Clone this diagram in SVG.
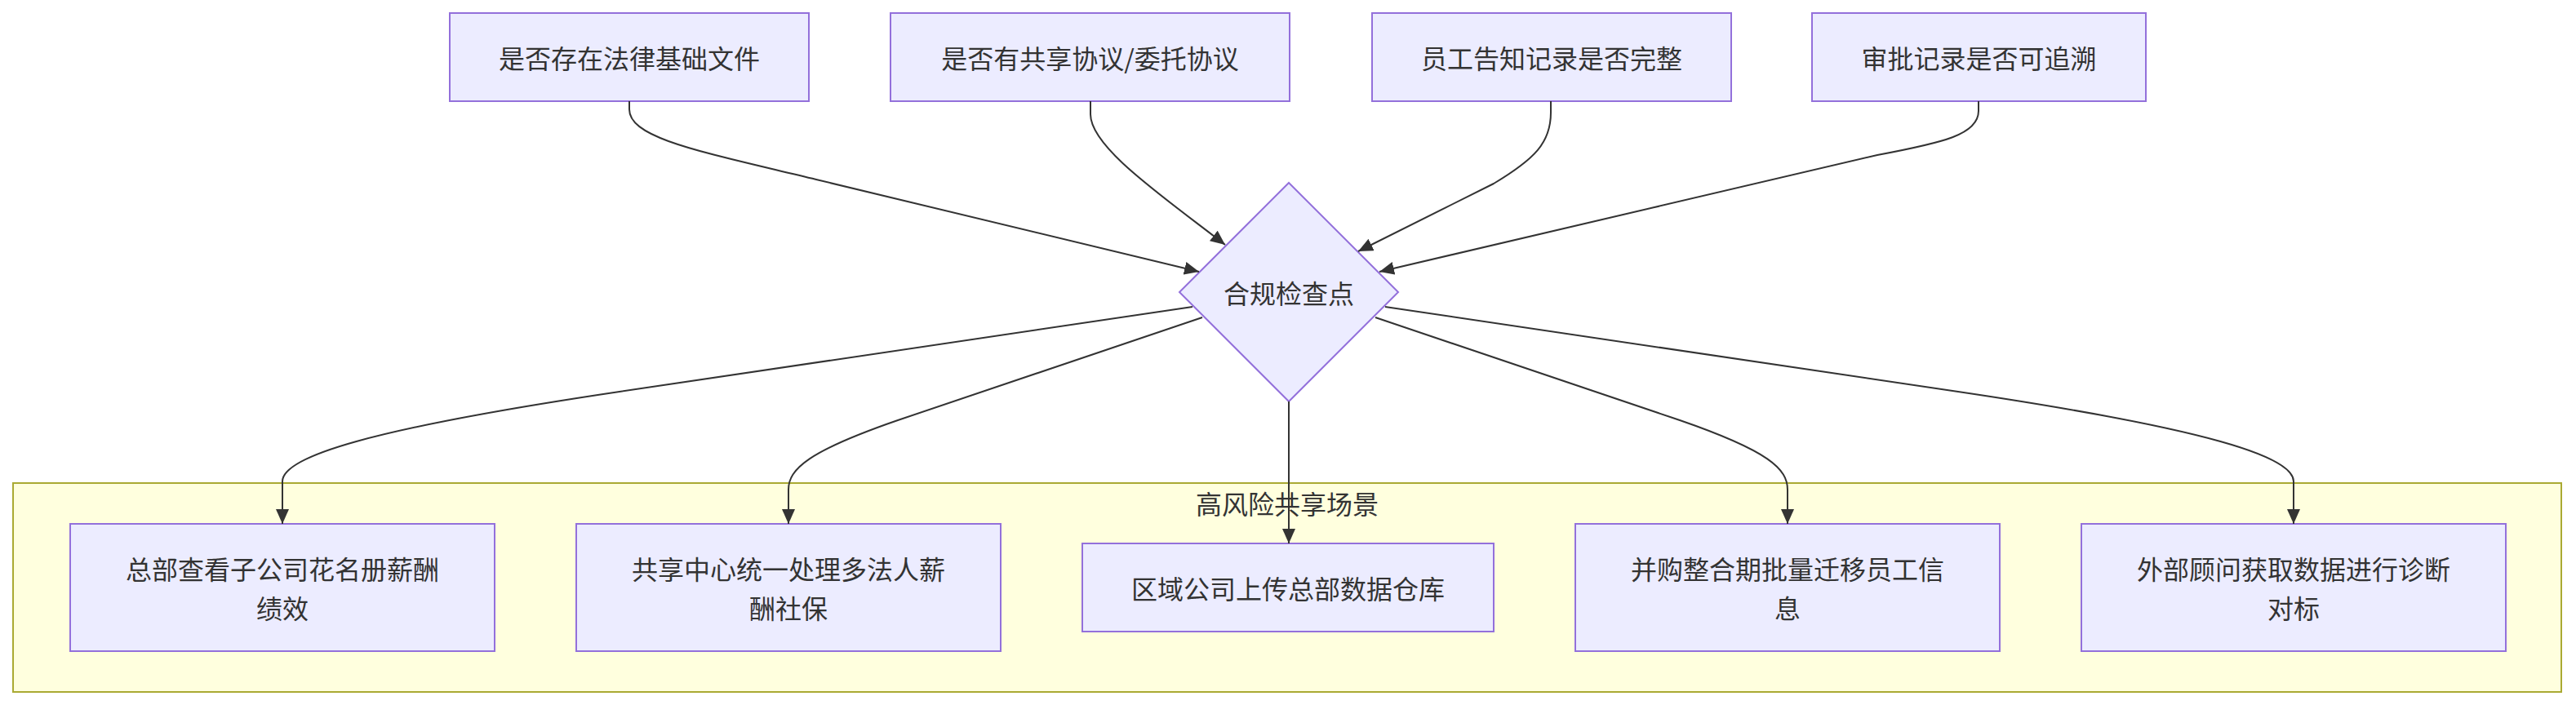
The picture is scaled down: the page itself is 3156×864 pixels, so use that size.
<svg xmlns="http://www.w3.org/2000/svg" width="3156" height="864" viewBox="0 0 3156 864">
<style>
  .node rect, .node polygon { fill: #ECECFF; stroke: #9370DB; stroke-width: 2; }
  .cluster rect { fill: #ffffde; stroke: #aaaa33; stroke-width: 2; }
  text { font-family: "Noto Sans CJK SC", "Noto Sans", sans-serif; font-size: 32px; fill: #333333; text-anchor: middle; dominant-baseline: central; }
  .edge { fill: none; stroke: #333333; stroke-width: 2; marker-end: url(#arrow); }
</style>
<defs>
  <marker id="arrow" viewBox="0 0 18 16" refX="18" refY="8" markerWidth="18" markerHeight="16" markerUnits="userSpaceOnUse" orient="auto">
    <path d="M0,0 L18,8 L0,16 z" fill="#333333"/>
  </marker>
</defs>
<rect width="3156" height="864" fill="#ffffff"/>

<g id="cluster-highrisk" class="cluster">
  <rect x="16" y="592" width="3122" height="256"/>
  <text x="1577" y="616">高风险共享场景</text>
</g>

<g id="n1" class="node">
  <rect x="551" y="16" width="440" height="108"/>
  <text x="771" y="70">是否存在法律基础文件</text>
</g>
<g id="n2" class="node">
  <rect x="1091" y="16" width="489" height="108"/>
  <text x="1335.5" y="70">是否有共享协议/委托协议</text>
</g>
<g id="n3" class="node">
  <rect x="1681" y="16" width="440" height="108"/>
  <text x="1901" y="70">员工告知记录是否完整</text>
</g>
<g id="n4" class="node">
  <rect x="2220" y="16" width="409" height="108"/>
  <text x="2424.5" y="70">审批记录是否可追溯</text>
</g>

<g id="check" class="node">
  <polygon points="1579,224 1713,358 1579,492 1445,358"/>
  <text x="1579" y="358">合规检查点</text>
</g>

<g id="s1" class="node">
  <rect x="86" y="642" width="520" height="156"/>
  <text x="346" y="696">总部查看子公司花名册薪酬</text>
  <text x="346" y="744">绩效</text>
</g>
<g id="s2" class="node">
  <rect x="706" y="642" width="520" height="156"/>
  <text x="966" y="696">共享中心统一处理多法人薪</text>
  <text x="966" y="744">酬社保</text>
</g>
<g id="s3" class="node">
  <rect x="1326" y="666" width="504" height="108"/>
  <text x="1578" y="720">区域公司上传总部数据仓库</text>
</g>
<g id="s4" class="node">
  <rect x="1930" y="642" width="520" height="156"/>
  <text x="2190" y="696">并购整合期批量迁移员工信</text>
  <text x="2190" y="744">息</text>
</g>
<g id="s5" class="node">
  <rect x="2550" y="642" width="520" height="156"/>
  <text x="2810" y="696">外部顾问获取数据进行诊断</text>
  <text x="2810" y="744">对标</text>
</g>

<g id="connectors">
  <path class="edge" d="M771,124 L771,134 C771,170 860,186 1000,220 L1469,333"/>
  <path class="edge" d="M1336,124 L1336,140 C1336,180 1421,238 1501,300"/>
  <path class="edge" d="M1900,124 L1900,138 C1900,175 1880,195 1830,225 L1664,308"/>
  <path class="edge" d="M2424,124 L2424,136 C2424,165 2380,175 2300,190 L1690,333"/>
  <path class="edge" d="M1461,376 L759,480 C450,526 346,560 346,590 L346,642"/>
  <path class="edge" d="M1473,389 L1100,515 C990,553 966,575 966,600 L966,642"/>
  <path class="edge" d="M1579,492 L1579,666"/>
  <path class="edge" d="M1685,389 L2058,515 C2168,553 2190,575 2190,600 L2190,642"/>
  <path class="edge" d="M1697,376 L2399,480 C2708,526 2810,560 2810,590 L2810,642"/>
</g>
</svg>
